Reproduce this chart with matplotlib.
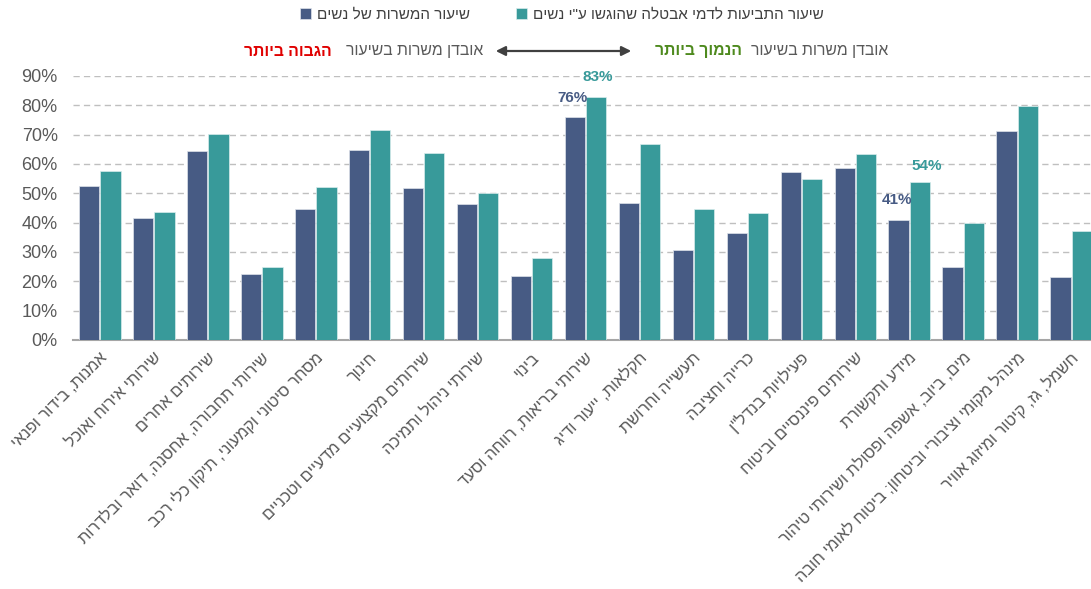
import numpy as np
import matplotlib.pyplot as plt
import matplotlib.transforms as mtransforms

plt.rcParams['font.family'] = ['Liberation Sans', 'DejaVu Sans']


def rtl(s):
    # matplotlib lays glyphs out left to right, so flip Hebrew to visual order
    return s[::-1]


sectors = [
    'אמנות, בידור ופנאי',
    'שירותי אירוח ואוכל',
    'שירותים אחרים',
    'שירותי תחבורה, אחסנה, דואר ובלדרות',
    'מסחר סיטוני וקמעוני, תיקון כלי רכב',
    'חינוך',
    'שירותים מקצועיים מדעיים וטכניים',
    'שירותי ניהול ותמיכה',
    'בינוי',
    'שירותי בריאות, רווחה וסעד',
    'חקלאות, ייעור ודיג',
    'תעשייה וחרושת',
    'כרייה וחציבה',
    'פעילויות בנדל"ן',
    'שירותים פיננסיים וביטוח',
    'מידע ותקשורת',
    'מים, ביוב, אשפה ופסולת ושירותי טיהור',
    'מינהל מקומי וציבורי וביטחון; ביטוח לאומי חובה',
    'חשמל, גז, קיטור ומיזוג אוויר',
]
# share of jobs held by women (%)
jobs_women = [52.5, 41.7, 64.6, 22.6, 44.5, 64.8, 51.8, 46.2, 21.8, 76,
              46.8, 30.8, 36.4, 57.4, 58.8, 41, 24.8, 71.3, 21.5]
# share of unemployment claims filed by women (%)
claims_women = [57.6, 43.6, 70.3, 24.9, 52.0, 71.5, 63.9, 50.0, 27.9, 83,
                66.9, 44.7, 43.3, 54.8, 63.3, 54, 40.0, 79.8, 37.1]

jobs_label = 'שיעור המשרות של נשים'
claims_label = 'שיעור התביעות לדמי אבטלה שהוגשו ע"י נשים'

# bars that get a value label: (series, index, dx pt, dy pt)
callouts = [('jobs', 9, -2, 14), ('claims', 9, 1, 14),
            ('jobs', 15, -1, 14), ('claims', 15, 5, 11)]

navy = '#475b84'
teal = '#389a9a'
grey = '#595959'

fig = plt.figure(figsize=(10.91, 5.89), dpi=100)
ax = fig.add_axes([73 / 1091, 1 - 340 / 589, 1 - 73 / 1091, 264 / 589])

x = np.arange(len(sectors))
w = 0.375
off = 0.197
jobs = np.array(jobs_women) / 100
claims = np.array(claims_women) / 100
ax.bar(x - off, jobs, w, color=navy, edgecolor='#dfe3ea', linewidth=0.5,
       label=rtl(jobs_label), zorder=3)
ax.bar(x + off, claims, w, color=teal, edgecolor='#d8eded', linewidth=0.5,
       label=rtl(claims_label), zorder=3)

ax.set_xlim(-0.5, 18.37)
ax.set_ylim(0, 0.9)
ax.set_yticks(np.arange(0, 0.91, 0.1))
ax.set_yticklabels([f'{int(round(v * 100))}%' for v in np.arange(0, 0.91, 0.1)])
ax.yaxis.grid(True, color='#bfbfbf', linestyle=(0, (4.5, 3)), linewidth=1)
ax.set_axisbelow(True)
for s in ['left', 'right', 'top']:
    ax.spines[s].set_visible(False)
ax.spines['bottom'].set_color('#a6a6a6')
ax.spines['bottom'].set_linewidth(1.5)
ax.tick_params(axis='both', length=0)
ax.tick_params(axis='y', labelsize=13, labelcolor=grey, pad=11)

ax.set_xticks(x)
ax.set_xticklabels([rtl(s) for s in sectors], rotation=45, ha='right',
                   va='center', rotation_mode='anchor', fontsize=11.7,
                   color=grey)
ax.tick_params(axis='x', pad=11)
shift = mtransforms.ScaledTranslation(5 / 100, 0, fig.dpi_scale_trans)
for lbl in ax.get_xticklabels():
    lbl.set_transform(lbl.get_transform() + shift)

for series, i, dx, dy in callouts:
    if series == 'jobs':
        xv, yv, c = x[i] - off, jobs[i], navy
    else:
        xv, yv, c = x[i] + off, claims[i], teal
    ax.annotate(f'{int(round(yv * 100))}%', (xv, yv), xytext=(dx, dy),
                textcoords='offset points', ha='center', va='center',
                fontsize=11, fontweight='bold', color=c, annotation_clip=False)

fig.legend(loc='center', bbox_to_anchor=(562 / 1091, 1 - 15 / 589), ncol=2,
           frameon=False, fontsize=11, handlelength=0.7, handleheight=0.7,
           handletextpad=0.4, columnspacing=3.0, labelcolor='#404040')

# header showing the direction of job loss
yh = 1 - 51 / 589
fs = 11.3
fig.text(655 / 1091, yh, rtl('הנמוך ביותר'), color='#4e8a1e', fontweight='bold',
         fontsize=fs, ha='left', va='center')
fig.text(888 / 1091, yh, rtl('אובדן משרות בשיעור'), color=grey,
         fontsize=fs, ha='right', va='center')
fig.text(244 / 1091, yh, rtl('הגבוה ביותר'), color='#e00000', fontweight='bold',
         fontsize=fs, ha='left', va='center')
fig.text(483 / 1091, yh, rtl('אובדן משרות בשיעור'), color=grey,
         fontsize=fs, ha='right', va='center')
fig.add_artist(plt.Annotation('', xy=(493 / 1091, yh), xytext=(634 / 1091, yh),
                              xycoords='figure fraction',
                              arrowprops=dict(arrowstyle='<|-|>', color='#404040',
                                              lw=1.6, mutation_scale=14)))

fig.savefig('out.png', dpi=100)
